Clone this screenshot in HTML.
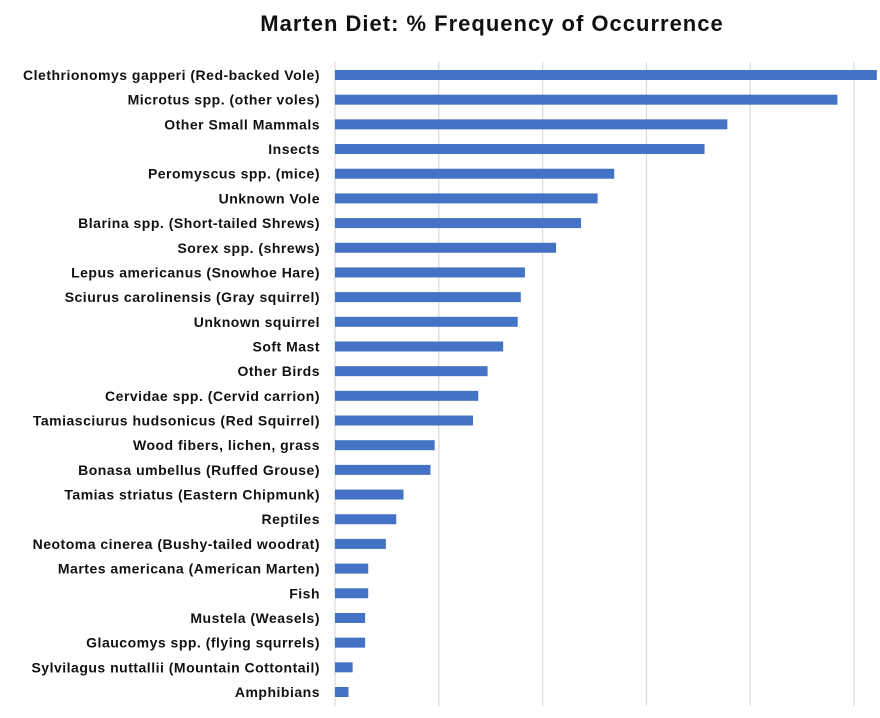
<!DOCTYPE html>
<html><head><meta charset="utf-8"><style>
body{margin:0;background:#fff;width:880px;height:713px;overflow:hidden;font-family:"Liberation Sans",sans-serif}
</style></head><body>
<svg id="chart" width="880" height="713">
<text x="492" y="31" text-anchor="middle" font-size="22" font-weight="bold" letter-spacing="1" fill="#111">Marten Diet: % Frequency of Occurrence</text>
<g id="grid"></g><g id="bars"></g><g id="labels"></g>
</svg>
<script>
const categories=["Clethrionomys gapperi (Red-backed Vole)","Microtus spp. (other voles)","Other Small Mammals","Insects","Peromyscus spp. (mice)","Unknown Vole","Blarina spp. (Short-tailed Shrews)","Sorex spp. (shrews)","Lepus americanus (Snowhoe Hare)","Sciurus carolinensis (Gray squirrel)","Unknown squirrel","Soft Mast","Other Birds","Cervidae spp. (Cervid carrion)","Tamiasciurus hudsonicus (Red Squirrel)","Wood fibers, lichen, grass","Bonasa umbellus (Ruffed Grouse)","Tamias striatus (Eastern Chipmunk)","Reptiles","Neotoma cinerea (Bushy-tailed woodrat)","Martes americana (American Marten)","Fish","Mustela  (Weasels)","Glaucomys spp. (flying squrrels)","Sylvilagus nuttallii (Mountain Cottontail)","Amphibians"];
const values=[52.2,48.4,37.8,35.6,26.9,25.3,23.7,21.3,18.3,17.9,17.6,16.2,14.7,13.8,13.3,9.6,9.2,6.6,5.9,4.9,3.2,3.2,2.9,2.9,1.7,1.3];
const ticks=[0,10,20,30,40,50];
const NS="http://www.w3.org/2000/svg";
const x0=335,pxPer=10.38,yTop=75,step=24.68,bh=10;
const xs=v=>x0+v*pxPer, ys=i=>yTop+i*step;
const grid=document.getElementById('grid'),bars=document.getElementById('bars'),labels=document.getElementById('labels');
ticks.forEach(t=>{const l=document.createElementNS(NS,'line');


l.setAttribute('x1',xs(t));l.setAttribute('x2',xs(t));l.setAttribute('y1',62);l.setAttribute('y2',706);
l.setAttribute('stroke','#d9d9d9');l.setAttribute('stroke-width','1.2');grid.appendChild(l);});
categories.forEach((c,i)=>{const r=document.createElementNS(NS,'rect');


r.setAttribute('x',x0);r.setAttribute('y',ys(i)-bh/2);r.setAttribute('width',xs(values[i])-x0);r.setAttribute('height',bh);
r.setAttribute('fill','#4472c4');bars.appendChild(r);
const t=document.createElementNS(NS,'text');


t.setAttribute('x',320);t.setAttribute('y',ys(i)+5);t.setAttribute('text-anchor','end');
t.setAttribute('font-size','14');t.setAttribute('font-weight','bold');t.setAttribute('letter-spacing','0.5');
t.setAttribute('fill','#111');t.textContent=c;labels.appendChild(t);});
</script>
</body></html>
